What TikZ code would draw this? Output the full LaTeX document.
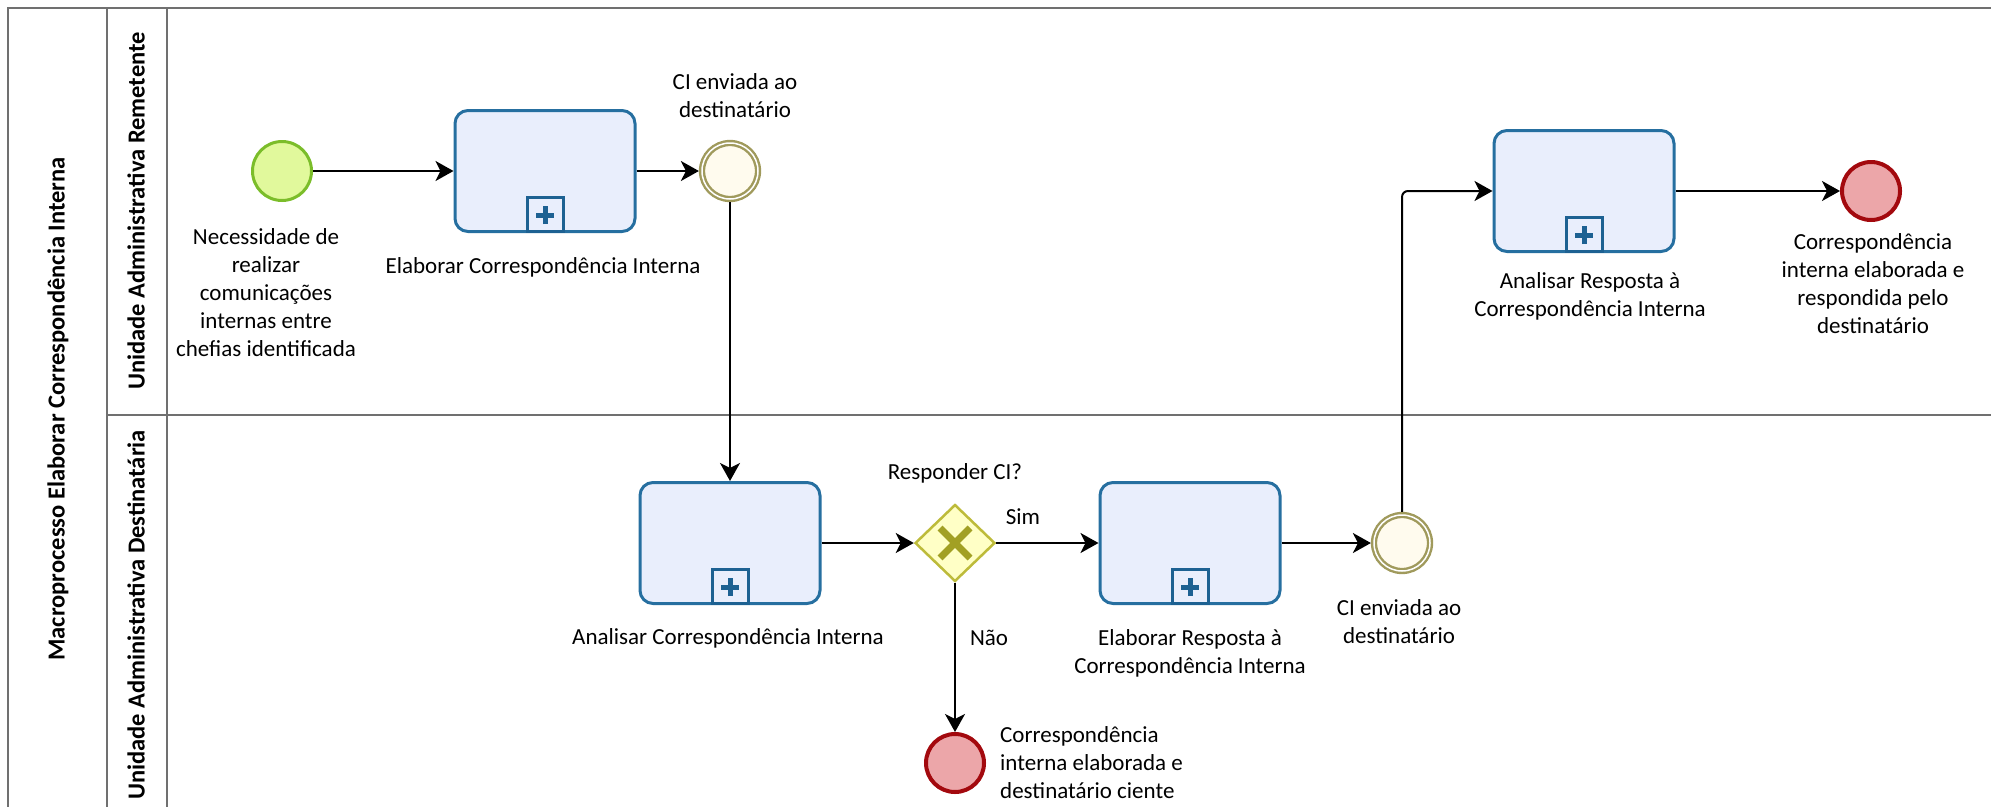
\documentclass[tikz,border=0pt]{standalone}
\usepackage{fontspec}
\setmainfont{Carlito}
\usetikzlibrary{shapes.geometric,arrows.meta}

\definecolor{taskfill}{HTML}{E9EEFC}
\definecolor{taskdraw}{HTML}{266FA0}
\definecolor{markdraw}{HTML}{1D6192}
\definecolor{startfill}{HTML}{E1F99C}
\definecolor{startdraw}{HTML}{7BBD2A}
\definecolor{iefill}{HTML}{FFFBEE}
\definecolor{iedraw}{HTML}{A09A5C}
\definecolor{gwfill}{HTML}{FFFFC6}
\definecolor{gwdraw}{HTML}{BDBB3A}
\definecolor{gwmark}{HTML}{A2A024}
\definecolor{eefill}{HTML}{ECA6A9}
\definecolor{eedraw}{HTML}{A3090E}
\definecolor{laneline}{HTML}{707070}

\begin{document}
\begin{tikzpicture}[x=1pt,y=-1pt,
  task/.style={draw=taskdraw, fill=taskfill, line width=3pt, rounded corners=13pt,
    minimum width=180pt, minimum height=121pt, inner sep=0pt},
  startev/.style={circle, draw=startdraw, fill=startfill, line width=3pt,
    minimum size=59pt, inner sep=0pt},
  interev/.style={circle, draw=iedraw, double=white, double distance=1.5pt,
    line width=2.4pt, fill=iefill, minimum size=56pt, inner sep=0pt, outer sep=3.1pt},
  endev/.style={circle, draw=eedraw, fill=eefill, line width=4pt,
    minimum size=58pt, inner sep=0pt},
  gateway/.style={diamond, draw=gwdraw, fill=gwfill, line width=2.5pt,
    minimum width=80pt, minimum height=77pt, inner sep=0pt},
  gwx/.style={draw=gwmark, line width=7pt},
  mkbox/.style={draw=markdraw, line width=3pt, fill=taskfill},
  mkplus/.style={draw=markdraw, line width=5pt},
  flow/.style={draw=black, line width=2pt, -{Stealth[length=18pt,width=20pt,inset=5pt]}},
  lbl/.style={font=\fontsize{23}{28}\selectfont, align=center, inner sep=0pt},
  head/.style={font=\bfseries\fontsize{24.5}{28}\selectfont, rotate=90, inner sep=0pt},
  lane/.style={draw=laneline, line width=2.5pt}
]
\useasboundingbox (0,0) rectangle (1991,806);
\clip (0,0) rectangle (1991,806);

% pool and lanes
\draw[lane] (1995,8) -- (8,8) -- (8,815);
\draw[lane] (107,8) -- (107,815);
\draw[lane] (167,8) -- (167,815);
\draw[lane] (107,415) -- (1995,415);

\node[head] (pooltitle) at (58,409) {Macroprocesso Elaborar Correspondência Interna};
\node[head] (lanetop) at (136,211) {Unidade Administrativa Remetente};
\node[head] (lanebot) at (136,615) {Unidade Administrativa Destinatária};

% flow objects
\node[startev] (start) at (282,171) {};
\node[task] (t1) at (545,171) {};
\node[interev] (ie1) at (730,171) {};
\node[task] (t2) at (730,543) {};
\node[gateway] (gw) at (955,543) {};
\node[task] (t3) at (1190,543) {};
\node[interev] (ie2) at (1402,543) {};
\node[task] (t4) at (1584,191) {};
\node[endev] (ee1) at (1871,191) {};
\node[endev] (ee2) at (955,763) {};

% collapsed sub-process markers
\foreach \tk in {t1,t2,t3,t4}{
  \draw[mkbox] ([xshift=-18pt,yshift=1.5pt]\tk.south) rectangle ([xshift=18pt,yshift=36pt]\tk.south);
  \draw[mkplus] ([xshift=-9pt,yshift=18pt]\tk.south) -- ([xshift=9pt,yshift=18pt]\tk.south)
                ([yshift=9pt]\tk.south) -- ([yshift=27pt]\tk.south);
}

% exclusive gateway marker
\draw[gwx] ([xshift=-15pt,yshift=-15pt]gw.center) -- ([xshift=15pt,yshift=15pt]gw.center)
           ([xshift=-15pt,yshift=15pt]gw.center) -- ([xshift=15pt,yshift=-15pt]gw.center);

% sequence flows
\draw[flow] (start) -- (t1);
\draw[flow] (t1) -- (ie1);
\draw[flow] (ie1) -- (t2);
\draw[flow] (t2) -- (gw);
\draw[flow] (gw) -- (t3);
\draw[flow] (gw) -- (ee2);
\draw[flow] (t3) -- (ie2);
\draw[flow, rounded corners=6pt] (ie2) |- (t4);
\draw[flow] (t4) -- (ee1);

% labels
\node[lbl] (startlbl) at (266,293) {Necessidade de\\realizar\\comunicações\\internas entre\\chefias identificada};
\node[lbl] (t1lbl) at (543,267) {Elaborar Correspondência Interna};
\node[lbl] (ie1lbl) at (735,96) {CI enviada ao\\destinatário};
\node[lbl] (t2lbl) at (728,638) {Analisar Correspondência Interna};
\node[lbl] (gwlbl) at (955,473) {Responder CI?};
\node[lbl] (simlbl) at (1023,517) {Sim};
\node[lbl] (naolbl) at (989,638) {Não};
\node[lbl, align=left, anchor=west] (ee2lbl) at (1000,763) {Correspondência\\interna elaborada e\\destinatário ciente};
\node[lbl] (t3lbl) at (1190,653) {Elaborar Resposta à\\Correspondência Interna};
\node[lbl] (ie2lbl) at (1399,622) {CI enviada ao\\destinatário};
\node[lbl] (t4lbl) at (1590,296) {Analisar Resposta à\\Correspondência Interna};
\node[lbl] (ee1lbl) at (1873,284) {Correspondência\\interna elaborada e\\respondida pelo\\destinatário};
\end{tikzpicture}
\end{document}
